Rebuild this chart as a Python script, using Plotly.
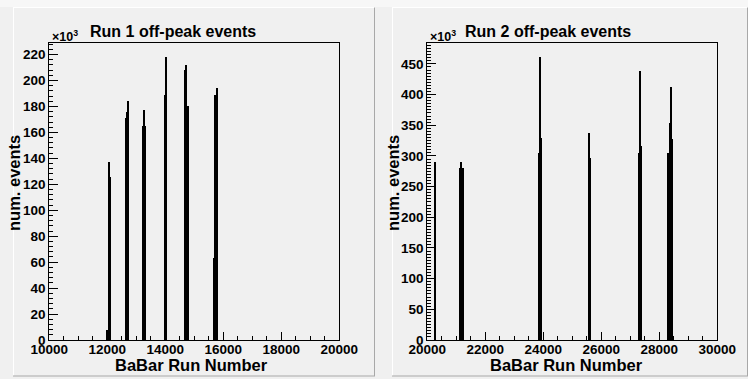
import plotly.graph_objects as go

# ---------------- data ----------------
BIN_WIDTH = 40  # runs per histogram bin

run1_bins = [12000, 12070, 12110, 12660, 12700, 12740, 13230, 13270, 13310,
             14000, 14040, 14700, 14740, 14780, 15680, 15740, 15780]
run1_counts = [8000, 137000, 126000, 171000, 176000, 184000, 165000, 177000, 165000,
               189000, 218000, 208000, 212000, 180000, 63000, 189000, 194000]

run2_bins = [20290, 21150, 21190, 21230, 23870, 23910, 23950, 25600, 25640,
             27300, 27340, 27380, 28330, 28370, 28410, 28450]
run2_counts = [290000, 280000, 290000, 280000, 305000, 461000, 330000, 337000, 296000,
               305000, 438000, 317000, 305000, 353000, 412000, 327000]

run1_xrange = [10000, 20000]
run2_xrange = [20000, 30000]
x_ticks1 = [10000, 12000, 14000, 16000, 18000, 20000]
x_ticks2 = [20000, 22000, 24000, 26000, 28000, 30000]
y_ticks1 = [0, 20, 40, 60, 80, 100, 120, 140, 160, 180, 200, 220]
y_ticks2 = [0, 50, 100, 150, 200, 250, 300, 350, 400, 450]

titles = ["Run 1 off-peak events", "Run 2 off-peak events"]
x_title = "BaBar Run Number"
y_title = "num. events"

# ---------------- figure ----------------
W, H = 748, 379
FONT = "Liberation Sans, Arial, Helvetica, sans-serif"
PAD = "#f0f0f0"

def px(x):
    return x / W

def py(y):
    return 1 - y / H

fig = go.Figure()
fig.add_trace(go.Bar(x=run1_bins, y=run1_counts, width=BIN_WIDTH,
                     marker=dict(color="black", line=dict(width=0)),
                     xaxis="x", yaxis="y", showlegend=False))
fig.add_trace(go.Bar(x=run2_bins, y=run2_counts, width=BIN_WIDTH,
                     marker=dict(color="black", line=dict(width=0)),
                     xaxis="x2", yaxis="y2", showlegend=False))

tickfont = dict(family=FONT, size=13.5, color="black", weight="bold")

def xaxis(dom, rng, ticks, anchor):
    return dict(domain=dom, range=rng, anchor=anchor, automargin=False,
                tickvals=ticks, ticktext=[str(t) for t in ticks],
                ticks="inside", ticklen=8, tickwidth=1, tickcolor="black",
                ticklabelstandoff=-3,
                minor=dict(dtick=500, tick0=rng[0], ticks="inside", ticklen=4,
                           tickcolor="black", tickwidth=1, showgrid=False),
                showline=True, linecolor="black", linewidth=1, mirror=True,
                showgrid=False, zeroline=False, tickfont=tickfont, fixedrange=True)

def yaxis(dom, rng, ticks, minor_dtick, anchor):
    return dict(domain=dom, range=rng, anchor=anchor, automargin=False,
                tickvals=[t * 1000 for t in ticks], ticktext=[str(t) for t in ticks],
                ticks="inside", ticklen=9, tickwidth=1, tickcolor="black",
                minor=dict(dtick=minor_dtick, tick0=0, ticks="inside", ticklen=4,
                           tickcolor="black", tickwidth=1, showgrid=False),
                showline=True, linecolor="black", linewidth=1, mirror=True,
                showgrid=False, zeroline=False, tickfont=tickfont, fixedrange=True)

ydom = [py(340), py(43)]
xdom1 = [px(49.3), px(339.3)]
xdom2 = [px(427.3), px(717.3)]

fig.update_layout(
    width=W, height=H, margin=dict(l=0, r=0, t=0, b=0, autoexpand=False),
    paper_bgcolor=PAD, plot_bgcolor=PAD, bargap=0,
    xaxis=xaxis(xdom1, run1_xrange, x_ticks1, "y"),
    yaxis=yaxis(ydom, [0, max(run1_counts) * 1.05], y_ticks1, 4000, "x"),
    xaxis2=xaxis(xdom2, run2_xrange, x_ticks2, "y2"),
    yaxis2=yaxis(ydom, [0, max(run2_counts) * 1.05], y_ticks2, 5000, "x2"),
)

# pads (bevelled boxes like ROOT)
shapes = [
    dict(type="rect", xref="paper", yref="paper", x0=0, x1=1, y0=py(7), y1=1,
         fillcolor="#f7f7f7", line=dict(width=0), layer="below"),
]
for (l, r) in [(13, 375), (392, 748)]:
    shapes += [
        dict(type="line", xref="paper", yref="paper", x0=px(l), x1=px(r), y0=py(7.5), y1=py(7.5),
             line=dict(color="white", width=1), layer="below"),
        dict(type="line", xref="paper", yref="paper", x0=px(l + 0.5), x1=px(l + 0.5), y0=py(7.5), y1=py(376),
             line=dict(color="white", width=1), layer="below"),
        dict(type="line", xref="paper", yref="paper", x0=px(r - 0.5), x1=px(r - 0.5), y0=py(7.5), y1=py(376),
             line=dict(color="#a8a8a8", width=1), layer="below"),
        dict(type="line", xref="paper", yref="paper", x0=px(l), x1=px(r), y0=py(376), y1=py(376),
             line=dict(color="#a8a8a8", width=1), layer="below"),
    ]
fig.update_layout(shapes=shapes)

annots = []
titlefont = dict(family=FONT, size=16, color="black", weight="bold")
axfont = dict(family=FONT, size=16.5, color="black", weight="bold")
for title, tx, xt_x, yt_x, exp_x in [(titles[0], 172.7, 191.5, 14, 49.5),
                                     (titles[1], 548.3, 566, 393, 427.5)]:
    annots.append(dict(text=title, x=px(tx), y=py(31), xref="paper", yref="paper",
                       showarrow=False, font=titlefont, xanchor="center", yanchor="middle"))
    annots.append(dict(text=x_title, x=px(xt_x), y=py(365), xref="paper", yref="paper",
                       showarrow=False, font=axfont, xanchor="center", yanchor="middle"))
    annots.append(dict(text=y_title, x=px(yt_x), y=py(183), xref="paper", yref="paper",
                       showarrow=False, font=axfont, textangle=-90,
                       xanchor="center", yanchor="middle"))
    annots.append(dict(text="×10<sup>3</sup>", x=px(exp_x), y=py(36), xref="paper", yref="paper",
                       showarrow=False, font=dict(family=FONT, size=12.5, color="black", weight="bold"),
                       xanchor="left", yanchor="middle"))
fig.update_layout(annotations=annots)

fig.write_html("out.html")
